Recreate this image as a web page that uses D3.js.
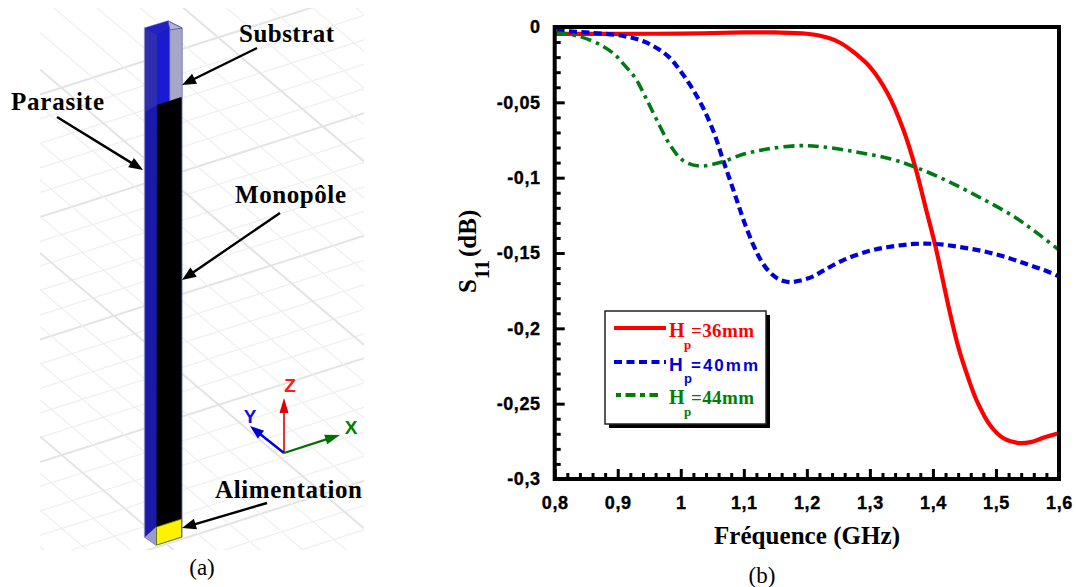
<!DOCTYPE html>
<html><head><meta charset="utf-8">
<script src="https://cdn.jsdelivr.net/npm/d3@7"></script>
<style>
html,body{margin:0;padding:0;background:#fff}
svg{display:block}
.serif{font-family:"Liberation Serif",serif;font-weight:bold}
.sans{font-family:"Liberation Sans",sans-serif;font-weight:bold}
</style></head><body>
<svg id="c" width="1076" height="587"></svg>
<script>
// ---- chart data ----
const freq36=[0.8,0.9,1.0,1.1,1.15,1.2,1.235,1.2535,1.274,1.3,1.328,1.353,1.372,1.39,1.404,1.425,1.44,1.456,1.47,1.491,1.512,1.534,1.555,1.576,1.6];
const s36=[-0.0046,-0.0045,-0.0044,-0.0036,-0.0036,-0.0045,-0.0073,-0.0106,-0.0166,-0.0265,-0.044,-0.068,-0.093,-0.1225,-0.1455,-0.186,-0.212,-0.233,-0.2485,-0.2645,-0.273,-0.276,-0.2755,-0.2725,-0.2695];
const freq40=[0.803,0.856,0.909,0.946,0.98,1.0,1.02,1.037,1.053,1.066,1.078,1.09,1.102,1.117,1.126,1.138,1.155,1.172,1.19,1.21,1.227,1.258,1.296,1.333,1.37,1.404,1.439,1.476,1.51,1.544,1.576,1.6];
const s40=[-0.0025,-0.0038,-0.006,-0.0104,-0.0195,-0.0295,-0.042,-0.055,-0.0705,-0.087,-0.1015,-0.1163,-0.131,-0.1465,-0.154,-0.1613,-0.1673,-0.1693,-0.1683,-0.1655,-0.1615,-0.1547,-0.149,-0.1458,-0.144,-0.144,-0.1458,-0.1485,-0.152,-0.1567,-0.1613,-0.1655];
const freq44=[0.803,0.84,0.875,0.896,0.909,0.928,0.944,0.962,0.983,1.004,1.031,1.066,1.1,1.137,1.185,1.222,1.275,1.333,1.372,1.422,1.476,1.529,1.566,1.6];
const s44=[-0.004,-0.0064,-0.0124,-0.0186,-0.0245,-0.034,-0.0465,-0.0617,-0.0783,-0.0887,-0.0923,-0.0894,-0.0843,-0.081,-0.0788,-0.0794,-0.0827,-0.0876,-0.093,-0.102,-0.1135,-0.126,-0.137,-0.148];
const xTicks=[0.8,0.9,1.0,1.1,1.2,1.3,1.4,1.5,1.6];
const yTicks=[0,-0.05,-0.1,-0.15,-0.2,-0.25,-0.3];
const legendValues=["=36mm","=40mm","=44mm"];
const calloutLabels=["Substrat","Parasite","Monopôle","Alimentation"];

const svg=d3.select("#c");
const x=d3.scaleLinear().domain([0.8,1.6]).range([554.7,1059]);
const y=d3.scaleLinear().domain([0,-0.3]).range([27,479]);
const comma=v=>String(+v.toFixed(2)).replace(".",",");

// ---- panel (a): 3D model illustration ----
const a=svg.append("g");
const defs=svg.append("defs");
defs.append("clipPath").attr("id","gridClip").append("rect").attr("x",40).attr("y",8).attr("width",324).attr("height",542);
defs.append("clipPath").attr("id","plotClip").append("rect").attr("x",556).attr("y",29).attr("width",501).attr("height",448);
const grid=a.append("g").attr("clip-path","url(#gridClip)").attr("fill","none");
d3.range(-5,40).forEach(k=>{
  const y0=217+k*24.5, heavy=((k%5)+5)%5===0;
  grid.append("line").attr("x1",40).attr("y1",y0).attr("x2",364).attr("y2",y0-0.32*324)
    .attr("stroke",heavy?"#e4e4e4":"#efefef").attr("stroke-width",heavy?2:1.2);
});
d3.range(-35,20).forEach(j=>{
  const y0=253+j*36.7, heavy=((j%5)+5)%5===0;
  grid.append("line").attr("x1",40).attr("y1",y0).attr("x2",364).attr("y2",y0+0.85*324)
    .attr("stroke",heavy?"#e4e4e4":"#efefef").attr("stroke-width",heavy?2:1.2);
});
const poly=(pts,fill,stroke,sw)=>a.append("polygon").attr("points",pts.map(p=>p.join(",")).join(" "))
  .attr("fill",fill).attr("stroke",stroke||"none").attr("stroke-width",sw||0);
poly([[144.5,28],[168,21],[182,28],[182,537],[156,545],[144.5,537]],"#1a1aa8","#8c8cc8",1.2);
poly([[145,28],[157,35],[157,105],[145,112]],"#2e2eae");
poly([[145,28],[168,21],[170,28],[157,35]],"#2222c4");
poly([[157,35],[170,29],[170,101],[157,105]],"#1a1ad0");
poly([[170,29],[182,28],[182,97],[170,101]],"#a6a6c6","#8c8cc0",1);
poly([[168,21],[182,28],[170,30]],"#b4b4d4","#5050b0",0.8);
poly([[157,105],[181.5,97],[181.5,519],[156.5,527]],"#000");
poly([[156.5,527],[181.5,519],[181.5,537],[156.5,545]],"#fff200","#557700",0.8);
poly([[145,537],[156,527],[156,545]],"#9a9ad0");

function arrow(x1,y1,x2,y2,col,w,hl,hw){
  const ang=Math.atan2(y2-y1,x2-x1),c=Math.cos(ang),s=Math.sin(ang);
  a.append("line").attr("x1",x1).attr("y1",y1).attr("x2",x2-c*hl*0.8).attr("y2",y2-s*hl*0.8).attr("stroke",col).attr("stroke-width",w);
  a.append("polygon").attr("fill",col).attr("points",[[x2,y2],[x2-c*hl-s*hw/2,y2-s*hl+c*hw/2],[x2-c*hl+s*hw/2,y2-s*hl-c*hw/2]].map(p=>p.join(",")).join(" "));
}
arrow(257,48,182,85,"#000",2.4,14,11);
arrow(57,117,143,170,"#000",2.4,14,11);
arrow(280,213,182,280,"#000",2.4,14,11);
arrow(267,503,182,528,"#000",2.4,14,11);
const co=[[239,42,95],[11,110,93],[235,203,111],[215,498,147]];
calloutLabels.forEach((t,i)=>a.append("text").attr("class","serif").attr("x",co[i][0]).attr("y",co[i][1])
  .attr("font-size",25).attr("textLength",co[i][2]).attr("lengthAdjust","spacing").attr("fill","#000").text(t));
// coordinate triad
arrow(284,453,284,398,"#e00000",1.6,15,9);
arrow(284,453,250,426,"#0000d0",2.4,14,10);
arrow(284,453,340,435,"#007000",2.2,15,10);
[["Z",290,392,"#ff1a1a"],["Y",250,423,"#1010e0"],["X",351,434,"#008000"]].forEach(d=>
  a.append("text").attr("class","sans").attr("x",d[1]).attr("y",d[2]).attr("text-anchor","middle").attr("font-size",19).attr("fill",d[3]).text(d[0]));
svg.append("text").attr("x",202).attr("y",575).attr("text-anchor","middle").attr("font-family","Liberation Serif").attr("font-size",23).text("(a)");
svg.append("text").attr("x",762).attr("y",583).attr("text-anchor","middle").attr("font-family","Liberation Serif").attr("font-size",23).text("(b)");

// ---- panel (b): S11 chart ----
const line=d3.line().x(d=>x(d[0])).y(d=>y(d[1])).curve(d3.curveCatmullRom.alpha(0.5));
const plot=svg.append("g").attr("clip-path","url(#plotClip)").attr("fill","none");
plot.append("path").datum(d3.zip(freq36,s36)).attr("d",line).attr("stroke","#ff0000").attr("stroke-width",4.2);
plot.append("path").datum(d3.zip(freq40,s40)).attr("d",line).attr("stroke","#0000d8").attr("stroke-width",4.2).attr("stroke-dasharray","8,4.4");
plot.append("path").datum(d3.zip(freq44,s44)).attr("d",line).attr("stroke","#007a14").attr("stroke-width",3.6).attr("stroke-dasharray","11,5,3.5,5");

const minorX=d3.range(0,41).map(i=>0.8+i*0.02).filter(v=>Math.abs(v*10-Math.round(v*10))>1e-6);
const minorY=d3.range(0,31).map(i=>-i*0.01).filter(v=>Math.abs(v*20-Math.round(v*20))>1e-6);
const styleAxis=g=>{g.select(".domain").remove();g.selectAll("line").attr("stroke","#000").attr("stroke-width",3);
  g.selectAll("text").attr("class","sans").attr("font-size",18).attr("letter-spacing",0.6).attr("stroke","#000").attr("stroke-width",0.35).attr("fill","#000");};
svg.append("g").attr("transform","translate(0,479)").call(d3.axisBottom(x).tickValues(minorX).tickSize(-6).tickFormat("")).call(styleAxis);
svg.append("g").attr("transform","translate(554.7,0)").call(d3.axisLeft(y).tickValues(minorY).tickSize(-6).tickFormat("")).call(styleAxis);
svg.append("g").attr("transform","translate(0,479)").call(d3.axisBottom(x).tickValues(xTicks).tickSize(-10).tickPadding(17).tickFormat(comma)).call(styleAxis);
svg.append("g").attr("transform","translate(554.7,0)").call(d3.axisLeft(y).tickValues(yTicks).tickSize(-10).tickPadding(14).tickFormat(comma)).call(styleAxis);
svg.append("rect").attr("x",554.7).attr("y",27).attr("width",504.3).attr("height",452).attr("fill","none").attr("stroke","#000").attr("stroke-width",4);

svg.append("text").attr("class","serif").attr("x",714).attr("y",544).attr("font-size",25).attr("textLength",186).text("Fréquence (GHz)");
const yl=svg.append("g").attr("transform","translate(476,293) rotate(-90)");
yl.append("text").attr("class","serif").attr("font-size",25).text("S");
yl.append("text").attr("class","serif").attr("x",14).attr("y",13).attr("font-size",20).text("11");
yl.append("text").attr("class","serif").attr("x",36).attr("font-size",25).text("(dB)");

// legend
const lg=svg.append("g");
lg.append("rect").attr("x",609).attr("y",315).attr("width",161).attr("height",113).attr("fill","#000");
lg.append("rect").attr("x",605).attr("y",311).attr("width",161).attr("height",113).attr("fill","#fff").attr("stroke","#222").attr("stroke-width",1.5);
const legendColors=["#ff0000","#0000d8","#008000"];
const legendY=[328,362,395], legendX=[[614,666],[614,666],[616,658]], dash=[null,"8,4.5","5,4.5,10,4.5"];
[0,1,2].forEach(i=>{
  lg.append("line").attr("x1",legendX[i][0]).attr("x2",legendX[i][1]).attr("y1",legendY[i]).attr("y2",legendY[i])
    .attr("stroke",legendColors[i]).attr("stroke-width",4).attr("stroke-dasharray",dash[i]);
  const cls=i===1?"sans":"serif", by=legendY[i]+9;
  lg.append("text").attr("class",cls).attr("x",669).attr("y",by).attr("font-size",i===1?19:20).attr("fill",legendColors[i]).text("H");
  lg.append("text").attr("class",cls).attr("x",684).attr("y",by+12).attr("font-size",13).attr("fill",legendColors[i]).text("p");
  lg.append("text").attr("class",cls).attr("x",691).attr("y",by).attr("font-size",i===1?17:19).attr("textLength",i===1?67:63).attr("fill",legendColors[i]).text(legendValues[i]);
});
</script>
</body></html>
